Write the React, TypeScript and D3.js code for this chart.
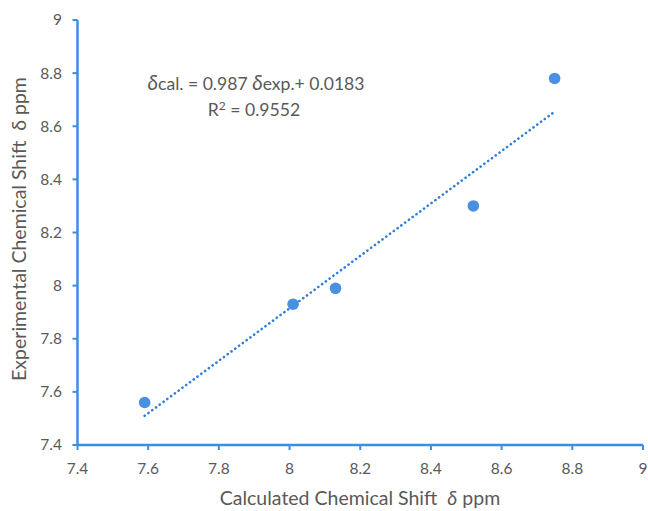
import React from "react";
import * as d3 from "d3";

const calcShift = [7.59, 8.01, 8.13, 8.52, 8.75];
const expShift = [7.56, 7.93, 7.99, 8.3, 8.78];
const xTicks = [7.4, 7.6, 7.8, 8, 8.2, 8.4, 8.6, 8.8, 9];
const yTicks = [7.4, 7.6, 7.8, 8, 8.2, 8.4, 8.6, 8.8, 9];

const W = 648;
const H = 511;
const axisColor = "#3B8EE5";
const pointColor = "#4A90E2";
const textColor = "#595959";
const font = "Lato, 'Open Sans', sans-serif";

export default function App() {
  const x = d3.scaleLinear().domain([7.4, 9]).range([77.5, 643]);
  const y = d3.scaleLinear().domain([7.4, 9]).range([445, 20]);

  const mx = d3.mean(calcShift)!;
  const my = d3.mean(expShift)!;
  let sxy = 0, sxx = 0;
  calcShift.forEach((v, i) => {
    sxy += (v - mx) * (expShift[i] - my);
    sxx += (v - mx) * (v - mx);
  });
  const slope = sxy / sxx;
  const intercept = my - slope * mx;
  const xMin = d3.min(calcShift)!;
  const xMax = d3.max(calcShift)!;
  const trend = d3.line<number>().x((d) => x(d)).y((d) => y(slope * d + intercept));

  return (
    <svg width={W} height={H} style={{ position: "absolute", left: 0, top: 0, background: "#fff" }}>
      {yTicks.map((t) => (
        <g key={"y" + t}>
          <line x1={x(7.4) - 5} x2={x(7.4)} y1={y(t)} y2={y(t)} stroke={axisColor} strokeWidth={2} />
          <text x={62} y={y(t)} dy="0.35em" textAnchor="end" fontFamily={font} fontSize={15.5} fill={textColor}>
            {String(t)}
          </text>
        </g>
      ))}
      {xTicks.map((t) => (
        <g key={"x" + t}>
          <line x1={x(t)} x2={x(t)} y1={y(7.4)} y2={y(7.4) + 5} stroke={axisColor} strokeWidth={2} />
          <text x={x(t)} y={474} textAnchor="middle" fontFamily={font} fontSize={15.5} fill={textColor}>
            {String(t)}
          </text>
        </g>
      ))}
      <line x1={x(7.4)} x2={x(7.4)} y1={y(9)} y2={y(7.4)} stroke={axisColor} strokeWidth={2.5} />
      <line x1={x(7.4)} x2={x(9)} y1={y(7.4)} y2={y(7.4)} stroke={axisColor} strokeWidth={2.5} />

      <path
        d={trend([xMin, xMax])!}
        fill="none"
        stroke="#2F7ED8"
        strokeWidth={2.6}
        strokeDasharray="0.1 4.6"
        strokeLinecap="round"
      />
      {calcShift.map((v, i) => (
        <circle key={i} cx={x(v)} cy={y(expShift[i])} r={5.8} fill={pointColor} />
      ))}

      <text x={256} y={90} textAnchor="middle" fontFamily={font} fontSize={17.6} fill={textColor} style={{ whiteSpace: "pre" }}>
        <tspan fontStyle="italic" fontSize={20.5}>δ</tspan>
        <tspan>cal. = 0.987 </tspan>
        <tspan fontStyle="italic" fontSize={20.5}>δ</tspan>
        <tspan>exp.+ 0.0183</tspan>
      </text>
      <text x={254} y={116} textAnchor="middle" fontFamily={font} fontSize={17.6} fill={textColor}>
        R
        <tspan fontSize={12} dy={-6}>2</tspan>
        <tspan dy={6}> = 0.9552</tspan>
      </text>

      <text
        transform={`translate(26,229) rotate(-90)`}
        textAnchor="middle"
        fontFamily={font}
        fontSize={19.5}
        fill={textColor}
        style={{ whiteSpace: "pre" }}
      >
        {"Experimental Chemical Shift  δ ppm"}
      </text>
      <text x={360} y={505} textAnchor="middle" fontFamily={font} fontSize={19.5} fill={textColor} style={{ whiteSpace: "pre" }}>
        {"Calculated Chemical Shift  "}
        <tspan fontStyle="italic">δ</tspan>
        {" ppm"}
      </text>
    </svg>
  );
}
